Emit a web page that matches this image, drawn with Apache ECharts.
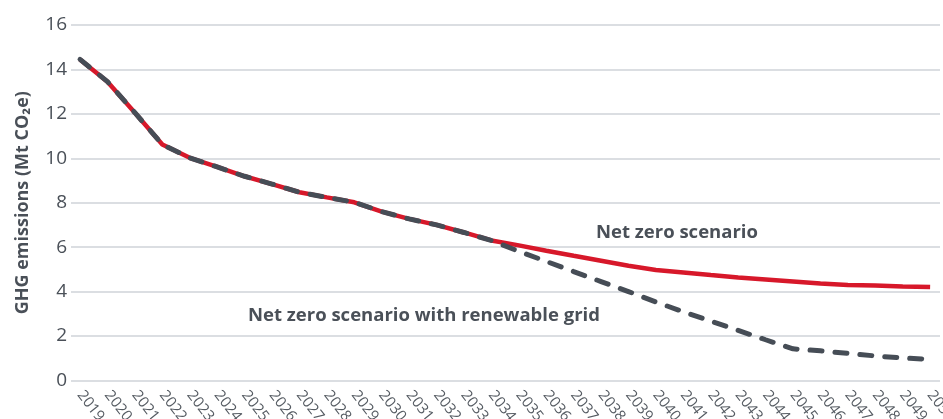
<!DOCTYPE html>
<html>
<head>
<meta charset="utf-8">
<script src="https://cdn.jsdelivr.net/npm/echarts@6/dist/echarts.min.js"></script>
<style>
  html, body { margin: 0; padding: 0; background: #fff; }
  #chart { width: 943px; height: 419px; }
</style>
</head>
<body>
<div id="chart"></div>
<script>
// years on the x axis
const years = [2019, 2020, 2021, 2022, 2023, 2024, 2025, 2026, 2027, 2028, 2029, 2030,
  2031, 2032, 2033, 2034, 2035, 2036, 2037, 2038, 2039, 2040, 2041, 2042, 2043,
  2044, 2045, 2046, 2047, 2048, 2049, 2050];
// Net zero scenario (Mt CO2e)
const netZero = [14.45, 13.45, 12.05, 10.62, 10.02, 9.61, 9.19, 8.84, 8.47, 8.24, 8.02, 7.6,
  7.27, 7.0, 6.66, 6.3, 6.08, 5.84, 5.61, 5.39, 5.16, 4.97, 4.86, 4.74, 4.63,
  4.54, 4.45, 4.36, 4.3, 4.27, 4.23, 4.2];
// Net zero scenario with renewable grid
const renewableGrid = [14.45, 13.45, 12.05, 10.62, 10.02, 9.61, 9.19, 8.84, 8.47, 8.24, 8.02, 7.6,
  7.27, 7.0, 6.66, 6.3, 5.81, 5.36, 4.9, 4.45, 4.0, 3.53, 3.09, 2.67, 2.25,
  1.83, 1.42, 1.33, 1.22, 1.1, 1.01, 0.95];
const yTicks = [0, 2, 4, 6, 8, 10, 12, 14, 16];

const textGrey = "#4a5058";
const font = "'Open Sans', 'Noto Sans', sans-serif";

const chart = echarts.init(document.getElementById("chart"));

const option = {
  backgroundColor: "#ffffff",
  animation: false,
  grid: {
    left: 71,
    right: 3,
    top: 25,
    bottom: 38.6,
    outerBoundsMode: "none", // 不自动收缩，让年份标签像原图一样被底边裁掉
  },
  xAxis: {
    type: "value",
    min: 2018.67,
    max: 2050.36,
    splitLine: { show: false },
    axisTick: { show: false },
    axisLine: { show: false },
    axisLabel: {
      customValues: years,
      formatter: (v) => String(v),
      rotate: -52,
      margin: 12,
      color: "#555b62",
      fontSize: 15,
      fontFamily: font,
    },
  },
  yAxis: {
    type: "value",
    min: yTicks[0],
    max: yTicks[yTicks.length - 1],
    interval: 2,
    name: "GHG emissions (Mt CO₂e)",
    nameLocation: "middle",
    nameRotate: 90,
    nameGap: 39,
    nameTextStyle: {
      color: textGrey,
      fontSize: 18,
      fontWeight: "bold",
      fontFamily: font,
    },
    axisLine: { show: false },
    axisTick: { show: false },
    axisLabel: {
      color: textGrey,
      fontSize: 19,
      margin: 4,
      fontFamily: font,
    },
    splitLine: {
      lineStyle: { color: "#cfd3d8", width: 1.5 },
    },
  },
  series: [
    {
      name: "Net zero scenario",
      type: "line",
      data: years.map((y, i) => [y, netZero[i]]),
      symbol: "none",
      z: 2,
      lineStyle: { color: "#d7182a", width: 4.5 },
    },
    {
      name: "Net zero scenario with renewable grid",
      type: "line",
      data: years.map((y, i) => [y, renewableGrid[i]]),
      symbol: "none",
      z: 3,
      lineStyle: {
        color: "#464d56",
        width: 5,
        type: [12, 13],
        cap: "round",
      },
    },
  ],
  graphic: [
    {
      type: "text",
      left: 596,
      top: 223,
      style: {
        text: "Net zero scenario",
        fill: textGrey,
        font: "bold 18.5px " + font,
      },
    },
    {
      type: "text",
      left: 248,
      top: 306,
      style: {
        text: "Net zero scenario with renewable grid",
        fill: textGrey,
        font: "bold 18.5px " + font,
      },
    },
  ],
};

chart.setOption(option);
</script>
</body>
</html>
